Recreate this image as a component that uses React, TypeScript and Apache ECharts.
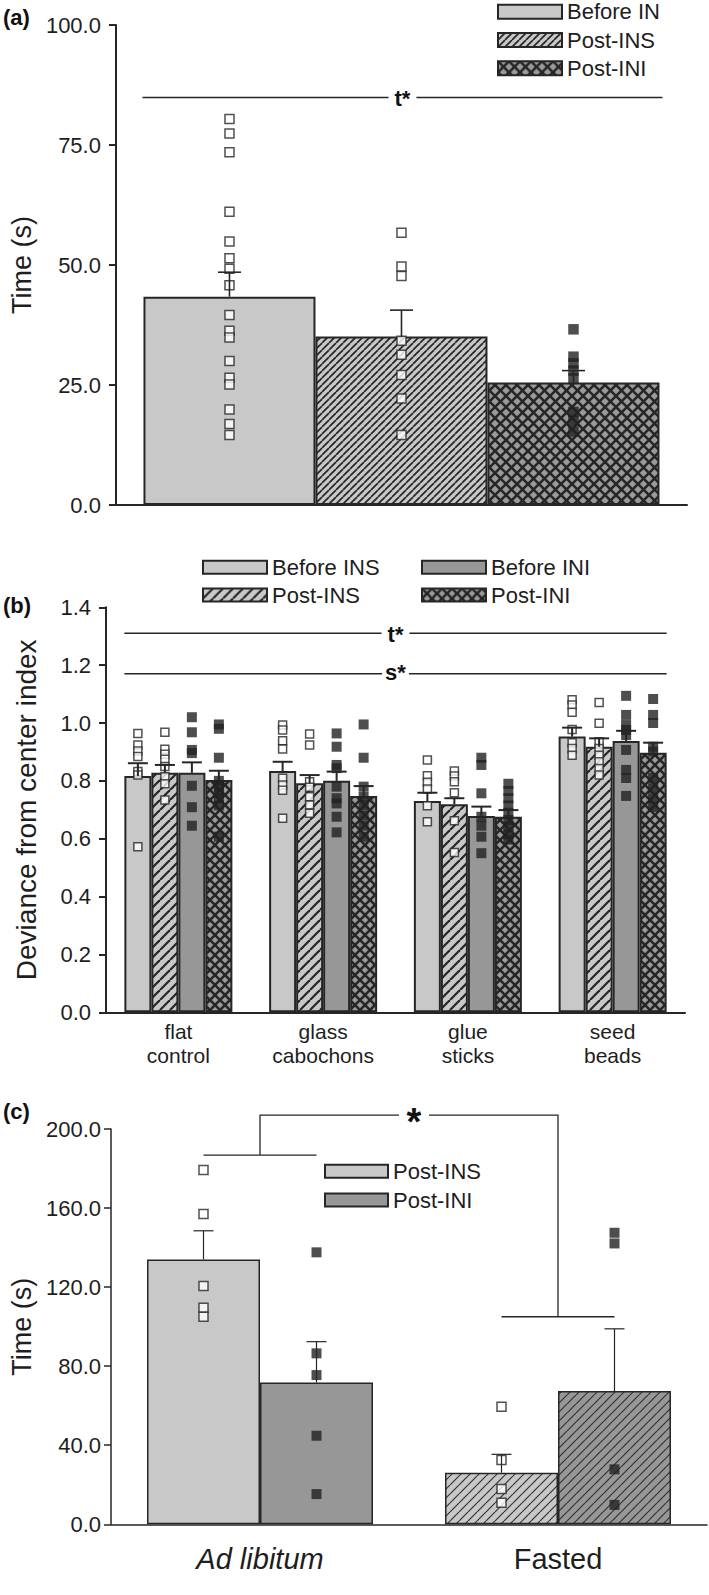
import React, { useEffect, useRef } from 'react';
import * as echarts from 'echarts';

const FONT = '"Liberation Sans", Arial, Helvetica, sans-serif';
const INK = '#262626';
const TEXT = '#1e1e1e';
const LIGHT = '#c8c8c8';
const MID = '#979797';
const BLACK = '#222222';

// ---------------- Panel (a) ----------------
const aSeriesLabels = ['Before IN', 'Post-INS', 'Post-INI'];
const aMeans = [43.4, 35.1, 25.5];
const aSEM = [5.1, 5.5, 2.5];
const aPointsBeforeIN = [80.4, 77.4, 73.5, 61.1, 54.9, 51.4, 49.2, 45.8, 39.6, 36.3, 34.9, 30.0, 26.5, 25.1, 19.9, 16.9, 14.6];
const aPointsPostINS = [56.7, 49.7, 47.7, 34.2, 31.3, 27.1, 22.2, 14.6];
const aPointsPostINI = [36.6, 30.9, 29.5, 28.0, 26.4, 19.4, 17.5, 15.3];
const aSignifY = 84.9;
const aSignifText = 't*';
const aYTitle = 'Time (s)';

// ---------------- Panel (b) ----------------
const bCategories = ['flat\ncontrol', 'glass\ncabochons', 'glue\nsticks', 'seed\nbeads'];
const bSeriesLabels = ['Before INS', 'Post-INS', 'Before INI', 'Post-INI'];
const bMeansBeforeINS = [0.817, 0.834, 0.730, 0.953];
const bMeansPostINS = [0.828, 0.792, 0.719, 0.918];
const bMeansBeforeINI = [0.828, 0.800, 0.679, 0.938];
const bMeansPostINI = [0.803, 0.748, 0.676, 0.897];
const bSEMBeforeINS = [0.044, 0.032, 0.029, 0.031];
const bSEMPostINS = [0.027, 0.028, 0.021, 0.029];
const bSEMBeforeINI = [0.036, 0.032, 0.032, 0.035];
const bSEMPostINI = [0.032, 0.034, 0.023, 0.035];
const bPointsBeforeINS = [
  [0.964, 0.924, 0.903, 0.884, 0.832, 0.820, 0.572],
  [0.993, 0.976, 0.939, 0.910, 0.809, 0.786, 0.768, 0.671],
  [0.872, 0.818, 0.795, 0.772, 0.714, 0.659],
  [1.080, 1.062, 1.037, 0.978, 0.932, 0.912, 0.889],
];
const bPointsPostINS = [
  [0.968, 0.909, 0.892, 0.875, 0.850, 0.814, 0.790, 0.734],
  [0.962, 0.924, 0.797, 0.778, 0.745, 0.717, 0.688],
  [0.834, 0.817, 0.797, 0.759, 0.662, 0.552],
  [1.071, 0.999, 0.935, 0.912, 0.889, 0.866, 0.843, 0.820],
];
const bPointsBeforeINI = [
  [1.020, 0.968, 0.907, 0.896, 0.783, 0.709, 0.645],
  [0.964, 0.918, 0.855, 0.844, 0.780, 0.740, 0.722, 0.676, 0.622],
  [0.880, 0.855, 0.757, 0.676, 0.645, 0.607, 0.550],
  [1.094, 1.028, 0.993, 0.976, 0.958, 0.907, 0.838, 0.810, 0.748],
];
const bPointsPostINI = [
  [0.995, 0.980, 0.880, 0.800, 0.780, 0.760, 0.740, 0.715, 0.607],
  [0.995, 0.880, 0.780, 0.745, 0.715, 0.680, 0.645, 0.607],
  [0.790, 0.765, 0.740, 0.715, 0.690, 0.665, 0.640, 0.615, 0.597],
  [1.083, 1.028, 1.000, 0.918, 0.901, 0.810, 0.775, 0.740, 0.710],
];
const bSignifT = 1.31;
const bSignifS = 1.17;
const bSignifTText = 't*';
const bSignifSText = 's*';
const bYTitle = 'Deviance from center index';

// ---------------- Panel (c) ----------------
const cCategories = ['Ad libitum', 'Fasted'];
const cSeriesLabels = ['Post-INS', 'Post-INI'];
const cMeansPostINS = [134.0, 26.1];
const cMeansPostINI = [71.8, 67.4];
const cSEMPostINS = [14.5, 9.3];
const cSEMPostINI = [20.6, 31.5];
const cPointsPostINS = [
  [179.2, 157.0, 120.6, 109.6, 105.0],
  [59.5, 32.5, 17.9, 10.9],
];
const cPointsPostINI = [
  [137.6, 86.5, 75.5, 44.8, 15.3],
  [147.5, 142.1, 27.8, 9.8],
];
const cBracketLeftY = 186.8;
const cBracketTopY = 207;
const cBracketRightY = 105;
const cSignifText = '*';
const cYTitle = 'Time (s)';

function pattern(bg: string, fg: string, p: number, lw: number, cross: boolean) {
  const c = document.createElement('canvas');
  c.width = p;
  c.height = p;
  const ctx = c.getContext('2d')!;
  ctx.fillStyle = bg;
  ctx.fillRect(0, 0, p, p);
  ctx.strokeStyle = fg;
  ctx.lineWidth = lw;
  for (let k = -1; k <= 1; k++) {
    ctx.beginPath();
    ctx.moveTo(k * p, p);
    ctx.lineTo(k * p + p, 0);
    ctx.stroke();
    if (cross) {
      ctx.beginPath();
      ctx.moveTo(k * p, 0);
      ctx.lineTo(k * p + p, p);
      ctx.stroke();
    }
  }
  return { image: c.toDataURL(), repeat: 'repeat', imageWidth: p, imageHeight: p } as any;
}

const legendNames: Record<string, string> = {};

export default function App() {
  const ref = useRef<HTMLDivElement>(null);
  useEffect(() => {
    document.body.style.margin = '0';
    const chart = echarts.init(ref.current!, null, { renderer: 'svg' });

    const hatchA = pattern(LIGHT, INK, 7, 1.7, false);
    const crossA = pattern('#9a9a9a', INK, 11, 2.6, true);
    const hatchB = pattern(LIGHT, INK, 10, 2.2, false);
    const crossB = pattern('#9a9a9a', INK, 10, 2.6, true);
    const hatchC1 = pattern(LIGHT, '#333', 9, 1.2, false);
    const hatchC2 = pattern(MID, '#333', 9, 1.2, false);

    const barA = 172, barB = 27, barC = 113;

    const aFills = [LIGHT, hatchA, crossA];
    const aPts = [aPointsBeforeIN, aPointsPostINS, aPointsPostINI];
    const bFills = [LIGHT, hatchB, MID, crossB];
    const bMeans = [bMeansBeforeINS, bMeansPostINS, bMeansBeforeINI, bMeansPostINI];
    const bSEM = [bSEMBeforeINS, bSEMPostINS, bSEMBeforeINI, bSEMPostINI];
    const bPts = [bPointsBeforeINS, bPointsPostINS, bPointsBeforeINI, bPointsPostINI];
    const cFills = [LIGHT, MID];
    const cFastedFills = [hatchC1, hatchC2];
    const cMeans = [cMeansPostINS, cMeansPostINI];
    const cSEM = [cSEMPostINS, cSEMPostINI];
    const cPts = [cPointsPostINS, cPointsPostINI];

    const series: any[] = [];

    const errSeries = (gi: number, means: number[], sems: number[], off: number, cap: number, lw: number) => ({
      type: 'custom',
      xAxisIndex: gi,
      yAxisIndex: gi,
      z: 5,
      silent: true,
      data: means.map((m, i) => [i, m, sems[i]]),
      renderItem: (_p: any, api: any) => {
        const i = api.value(0);
        const m = api.value(1);
        const s = api.value(2);
        const p0 = api.coord([i, m]);
        const p1 = api.coord([i, m + s]);
        const x = p0[0] + off;
        return {
          type: 'group',
          children: [
            { type: 'line', shape: { x1: x, y1: p0[1], x2: x, y2: p1[1] }, style: { stroke: INK, lineWidth: lw } },
            { type: 'line', shape: { x1: x - cap, y1: p1[1], x2: x + cap, y2: p1[1] }, style: { stroke: INK, lineWidth: lw } },
          ],
        };
      },
    });

    const openSq = () => ({ color: '#ffffff', borderColor: INK, borderWidth: 1.5 });

    // Panel (a)
    aSeriesLabels.forEach((lab, k) => {
      const id = 'A' + k;
      legendNames[id] = lab;
      series.push({
        type: 'bar', name: id, xAxisIndex: 0, yAxisIndex: 0, barWidth: barA, barGap: '0%',
        data: [aMeans[k]],
        itemStyle: { color: aFills[k], borderColor: INK, borderWidth: 2 },
        silent: true,
      });
    });
    aSeriesLabels.forEach((_l, k) => {
      const off = (k - 1) * barA;
      series.push({
        type: 'scatter', xAxisIndex: 0, yAxisIndex: 0, z: 4, silent: true,
        symbol: 'rect', symbolSize: k === 2 ? 10.5 : 9, symbolOffset: [off, 0],
        data: aPts[k].map((v) => [0, v]),
        itemStyle: k === 2 ? { color: BLACK } : openSq(),
      });
      series.push(errSeries(0, [aMeans[k]], [aSEM[k]], off, 11.5, 1.6));
    });

    // Panel (b)
    bSeriesLabels.forEach((lab, k) => {
      const id = 'B' + k;
      legendNames[id] = lab;
      series.push({
        type: 'bar', name: id, xAxisIndex: 1, yAxisIndex: 1, barWidth: barB, barGap: '0%',
        data: bMeans[k],
        itemStyle: { color: bFills[k], borderColor: INK, borderWidth: 2 },
        silent: true,
      });
    });
    bSeriesLabels.forEach((_l, k) => {
      const off = (k - 1.5) * barB;
      const data: number[][] = [];
      bPts[k].forEach((arr, ci) => arr.forEach((v) => data.push([ci, v])));
      series.push({
        type: 'scatter', xAxisIndex: 1, yAxisIndex: 1, z: 4, silent: true,
        symbol: 'rect', symbolSize: k >= 2 ? 10 : 8, symbolOffset: [off, 0],
        data,
        itemStyle: k >= 2 ? { color: BLACK } : openSq(),
      });
      series.push(errSeries(1, bMeans[k], bSEM[k], off, 10, 2));
    });

    // Panel (c)
    cSeriesLabels.forEach((lab, k) => {
      const id = 'C' + k;
      legendNames[id] = lab;
      series.push({
        type: 'bar', name: id, xAxisIndex: 2, yAxisIndex: 2, barWidth: barC, barGap: '0%',
        data: cMeans[k].map((v, ci) => (ci === 1 ? { value: v, itemStyle: { color: cFastedFills[k] } } : v)),
        itemStyle: { color: cFills[k], borderColor: INK, borderWidth: 1.5 },
        silent: true,
      });
    });
    cSeriesLabels.forEach((_l, k) => {
      const off = (k - 0.5) * barC;
      const data: number[][] = [];
      cPts[k].forEach((arr, ci) => arr.forEach((v) => data.push([ci, v])));
      series.push({
        type: 'scatter', xAxisIndex: 2, yAxisIndex: 2, z: 4, silent: true,
        symbol: 'rect', symbolSize: k === 1 ? 10 : 9, symbolOffset: [off, 0],
        data,
        itemStyle: k === 1 ? { color: BLACK } : openSq(),
      });
      series.push(errSeries(2, cMeans[k], cSEM[k], off, 10, 1.2));
    });

    const yAxisBase = (gi: number, min: number, max: number, interval: number, digits: number, name: string, nameSize: number, nameGap: number, labelSize: number, margin: number, lw: number) => ({
      type: 'value', gridIndex: gi, min, max, interval,
      name, nameLocation: 'middle', nameGap,
      nameTextStyle: { fontSize: nameSize, color: TEXT, fontFamily: FONT },
      axisLine: { show: true, lineStyle: { color: INK, width: lw } },
      axisTick: { show: true, length: 7, lineStyle: { color: INK, width: lw } },
      axisLabel: { formatter: (v: number) => v.toFixed(digits), fontSize: labelSize, color: TEXT, margin, fontFamily: FONT },
      splitLine: { show: false },
    });

    const legendBase = (ids: string[], left: number, top: number, gap: number, w: number, h: number) => ({
      data: ids, orient: 'vertical', left, top, itemGap: gap, itemWidth: w, itemHeight: h,
      icon: 'rect', padding: 0, selectedMode: false,
      itemStyle: { borderColor: INK, borderWidth: 2 },
      textStyle: { fontSize: 22, color: TEXT, lineHeight: 22, fontFamily: FONT },
      formatter: (n: string) => legendNames[n],
    });

    const option: any = {
      animation: false,
      textStyle: { fontFamily: FONT },
      grid: [
        { left: 107, top: 25, width: 580, height: 480 },
        { left: 106, top: 607.3, width: 579, height: 405 },
        { left: 103, top: 1129, width: 604, height: 395.3 },
      ],
      xAxis: [
        {
          type: 'category', gridIndex: 0, data: [''],
          axisLine: { lineStyle: { color: INK, width: 2 } }, axisTick: { show: false }, axisLabel: { show: false },
        },
        {
          type: 'category', gridIndex: 1, data: bCategories,
          axisLine: { lineStyle: { color: INK, width: 2 } },
          axisTick: { alignWithLabel: true, length: 6, lineStyle: { color: INK, width: 2 } },
          axisLabel: { interval: 0, fontSize: 21, lineHeight: 24, color: TEXT, margin: 7, fontFamily: FONT },
        },
        {
          type: 'category', gridIndex: 2,
          data: [{ value: cCategories[0], textStyle: { fontStyle: 'italic' } }, cCategories[1]],
          axisLine: { lineStyle: { color: INK, width: 1.5 } }, axisTick: { show: false },
          axisLabel: { fontSize: 29, color: TEXT, margin: 20, fontFamily: FONT },
        },
      ],
      yAxis: [
        yAxisBase(0, 0, 100, 25, 1, aYTitle, 27, 68, 22, 15, 2),
        yAxisBase(1, 0, 1.4, 0.2, 1, bYTitle, 28, 66, 22, 15, 2),
        yAxisBase(2, 0, 200, 40, 1, cYTitle, 27, 76, 22, 10, 1.5),
      ],
      legend: [
        legendBase(['A0', 'A1', 'A2'], 497, 0.7, 6.3, 64, 14),
        legendBase(['B0', 'B1'], 202, 556.3, 5.7, 64, 13),
        legendBase(['B2', 'B3'], 421, 556.3, 5.7, 64, 13),
        legendBase(['C0', 'C1'], 324, 1160.3, 6.7, 63, 13),
      ],
      series,
    };
    chart.setOption(option);

    // annotations computed through the axes
    const g: any[] = [];
    const hline = (x1: number, x2: number, y: number, lw: number) => ({
      type: 'line', silent: true, z: 10, shape: { x1, y1: y, x2, y2: y }, style: { stroke: INK, lineWidth: lw },
    });
    const label = (x: number, y: number, text: string, size: number, pad: number) => ({
      type: 'text', silent: true, z: 11, x, y,
      style: {
        text, align: 'center', verticalAlign: 'middle', fill: '#111',
        font: `bold ${size}px ${FONT}`, backgroundColor: '#ffffff', padding: [0, pad],
      },
    });

    const pa = chart.convertToPixel({ gridIndex: 0 } as any, [0, aSignifY]) as number[];
    g.push(hline(pa[0] - 1.5 * barA - 1, pa[0] + 1.5 * barA + 3, pa[1], 1.5));
    g.push(label(pa[0] + 1, pa[1] + 1, aSignifText, 22, 6));

    const pbt0 = chart.convertToPixel({ gridIndex: 1 } as any, [0, bSignifT]) as number[];
    const pbt3 = chart.convertToPixel({ gridIndex: 1 } as any, [3, bSignifT]) as number[];
    const pbs0 = chart.convertToPixel({ gridIndex: 1 } as any, [0, bSignifS]) as number[];
    const pbs3 = chart.convertToPixel({ gridIndex: 1 } as any, [3, bSignifS]) as number[];
    g.push(hline(pbt0[0] - 2 * barB, pbt3[0] + 2 * barB, pbt0[1], 1.5));
    g.push(hline(pbs0[0] - 2 * barB, pbs3[0] + 2 * barB, pbs0[1], 1.5));
    const bmid = (pbt0[0] + pbt3[0]) / 2;
    g.push(label(bmid, pbt0[1] + 1, bSignifTText, 22, 6));
    g.push(label(bmid, pbs0[1] - 1, bSignifSText, 22, 3));

    const cl = chart.convertToPixel({ gridIndex: 2 } as any, [0, cBracketLeftY]) as number[];
    const cr = chart.convertToPixel({ gridIndex: 2 } as any, [1, cBracketRightY]) as number[];
    const ct = chart.convertToPixel({ gridIndex: 2 } as any, [0, cBracketTopY]) as number[];
    const half = barC / 2;
    g.push(hline(cl[0] - half, cl[0] + half, cl[1], 1.3));
    g.push(hline(cr[0] - half, cr[0] + half, cr[1], 1.3));
    g.push({
      type: 'polyline', silent: true, z: 10,
      shape: { points: [[cl[0], cl[1]], [cl[0], ct[1]], [cr[0], ct[1]], [cr[0], cr[1]]] },
      style: { stroke: INK, lineWidth: 1.3, fill: null },
    });
    // white gap behind the star, then the star itself
    g.push({
      type: 'rect', silent: true, z: 11,
      shape: { x: (cl[0] + cr[0]) / 2 - 10, y: ct[1] - 4, width: 30, height: 8 },
      style: { fill: '#ffffff' },
    });
    g.push({
      type: 'text', silent: true, z: 12, x: (cl[0] + cr[0]) / 2 + 5, y: ct[1] + 7,
      style: {
        text: cSignifText, align: 'center', verticalAlign: 'middle', fill: '#111',
        font: `bold 38px ${FONT}`,
      },
    });

    // panel letters
    const letter = (y: number, t: string) => ({
      type: 'text', silent: true, x: 3, y,
      style: { text: t, font: `bold 22px ${FONT}`, fill: '#111', align: 'left', verticalAlign: 'middle' },
    });
    g.push(letter(17, '(a)'));
    g.push(letter(605, '(b)'));
    g.push(letter(1111, '(c)'));

    chart.setOption({ graphic: g });

    return () => chart.dispose();
  }, []);

  return <div ref={ref} style={{ width: 709, height: 1595 }} />;
}
